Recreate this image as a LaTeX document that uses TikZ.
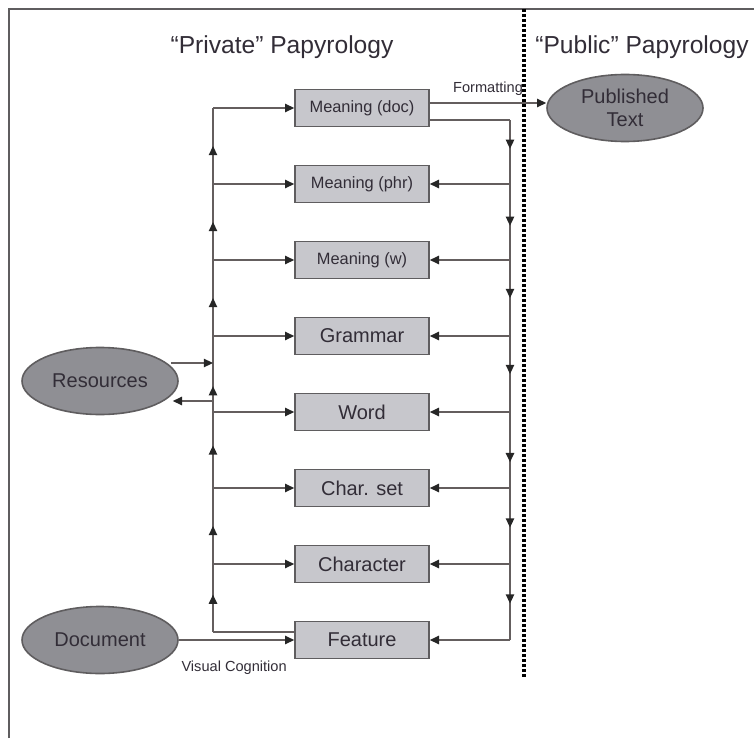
\documentclass[tikz,border=0pt]{standalone}
\usepackage{fontspec}
\setmainfont{Liberation Sans}
\usetikzlibrary{positioning,arrows.meta,shapes.geometric,decorations.markings}

\definecolor{boxgray}{RGB}{199,199,204}
\definecolor{blobgray}{RGB}{143,143,148}
\definecolor{edgegray}{RGB}{95,93,95}
\definecolor{wiregray}{RGB}{100,94,94}
\definecolor{inkgray}{RGB}{50,45,55}

\begin{document}
\begin{tikzpicture}[x=0.5pt,y=-0.5pt,node distance=38pt,on grid,
    >={Triangle[length=4.6pt,width=4.2pt,color=black!85]},
    box/.style={rectangle,draw=edgegray,line width=0.8pt,fill=boxgray,text=inkgray,
      minimum width=67pt,minimum height=18.5pt,inner sep=0pt,font=\fontsize{10}{12}\selectfont},
    meaning/.style={box,font=\fontsize{8.2}{10}\selectfont},
    blob/.style={ellipse,draw=edgegray,line width=0.8pt,fill=blobgray,text=inkgray,
      minimum width=78pt,minimum height=33.5pt,inner sep=0pt,align=center,
      font=\fontsize{10}{11.5}\selectfont},
    title/.style={text=inkgray,font=\fontsize{12.3}{14}\selectfont},
    lbl/.style={text=inkgray,font=\fontsize{7.3}{9}\selectfont},
    wire/.style={draw=wiregray,line width=0.7pt},
    midmark/.style={postaction={decorate},
      decoration={markings,mark=at position #1 with {\arrow{>}}}},
    divider/.style={draw=black,line width=2.1pt,dash pattern=on 1.5pt off 1pt},
    frame/.style={draw=edgegray,line width=0.9pt}]
    \useasboundingbox (0,0) rectangle (754,738);

    % frame and divider
    \coordinate (fbot) at (9,738);
    \coordinate (fcorner) at (9,9);
    \coordinate (fright) at (754,9);
    \draw[frame] (fbot) -- (fcorner) -- (fright);
    \coordinate (divtop) at (524,9);
    \coordinate (divbot) at (524,678);
    \draw[divider] (divtop) -- (divbot);

    \node[title] (privt) at (282,47) {“Private” Papyrology};
    \node[title] (pubt) at (642,47) {“Public” Papyrology};

    % the levels
    \node[meaning] (mdoc) at (362,108) {Meaning (doc)};
    \node[meaning] (mphr) [below = of mdoc] {Meaning (phr)};
    \node[meaning] (mw) [below = of mphr] {Meaning (w)};
    \node[box] (gram) [below = of mw] {Grammar};
    \node[box] (word) [below = of gram] {Word};
    \node[box] (cset) [below = of word] {Char. set};
    \node[box] (chr) [below = of cset] {Character};
    \node[box] (feat) [below = of chr] {Feature};

    \node[blob] (pub) [right = 131.5pt of mdoc] {Published\\Text};
    \node[blob] (res) at (100,381) {Resources};
    \node[blob] (docu) [left = 131pt of feat] {Document};

    \coordinate (lbus) at (213,0);
    \coordinate (rbus) at (510,0);

    % left bus, going up
    \draw[wire] ([yshift=4pt]feat.west) -- ([yshift=4pt]feat.west -| lbus) coordinate (lbot);
    \draw[wire,midmark=0.55] (lbot) -- (lbus |- chr.west);
    \foreach \lo/\hi/\p in {chr/cset/0.5,cset/word/0.56,word/gram/0.34,gram/mw/0.5,mw/mphr/0.5,mphr/mdoc/0.5}
      \draw[wire,midmark=\p] (lbus |- \lo.west) -- (lbus |- \hi.west);
    \foreach \b in {mdoc,mphr,mw,gram,word,cset,chr}
      \draw[wire,->] (lbus |- \b.west) -- (\b.west);

    % right bus, going down
    \draw[wire] ([yshift=-6pt]mdoc.east) -- ([yshift=-6pt]mdoc.east -| rbus) coordinate (rtop);
    \draw[wire,midmark=0.45] (rtop) -- (rbus |- mphr.east);
    \foreach \hi/\lo/\p in {mphr/mw/0.55,mw/gram/0.5,gram/word/0.5,word/cset/0.66,cset/chr/0.52,chr/feat/0.52}
      \draw[wire,midmark=\p] (rbus |- \hi.east) -- (rbus |- \lo.east);
    \foreach \b in {mphr,mw,gram,word,cset,chr,feat}
      \draw[wire,->] (rbus |- \b.east) -- (\b.east);

    % resources
    \draw[wire,->] ([xshift=-4pt,yshift=9pt]res.east) -- ([yshift=9pt]res.east -| lbus);
    \draw[wire,->] ([yshift=-10pt]res.east -| lbus) -- ([xshift=-3pt,yshift=-10pt]res.east);

    % in and out
    \draw[wire,->] (docu.east) -- (feat.west)
      node[lbl,pos=0,anchor=north west,inner sep=1pt,yshift=-9pt] {Visual Cognition};
    \draw[wire,->] ([yshift=2.5pt]mdoc.east) -- ([yshift=2.5pt]mdoc.east -| pub.west)
      node[lbl,midway,above] {Formatting};
\end{tikzpicture}
\end{document}
